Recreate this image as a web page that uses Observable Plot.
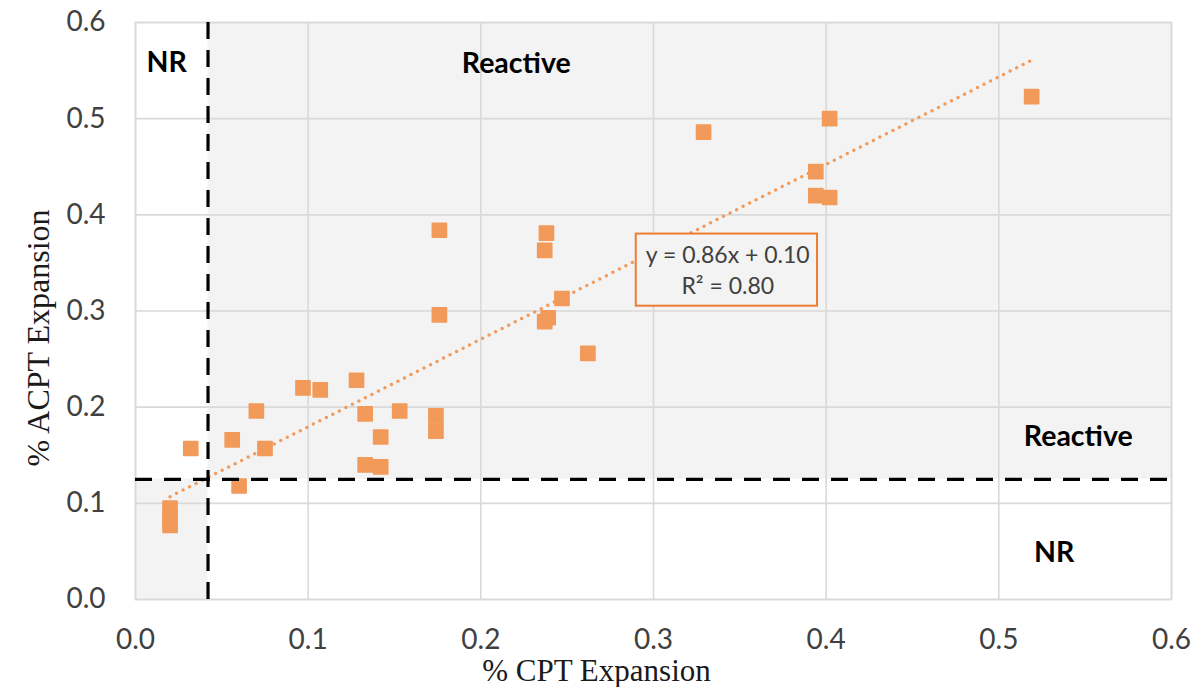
<!DOCTYPE html>
<html>
<head>
<meta charset="utf-8">
<script src="https://cdn.jsdelivr.net/npm/d3@7"></script>
<script src="https://cdn.jsdelivr.net/npm/@observablehq/plot@0.6"></script>
<style>
  html, body { margin: 0; padding: 0; background: #fff; }
</style>
</head>
<body>
<div id="chart"></div>
<script>
// % CPT Expansion (x) and % ACPT Expansion (y)
const cptExpansion = [0.519, 0.329, 0.402, 0.394, 0.394, 0.402, 0.176, 0.238, 0.237, 0.176,
  0.247, 0.239, 0.237, 0.262, 0.128, 0.097, 0.107, 0.070, 0.133, 0.153,
  0.174, 0.174, 0.142, 0.032, 0.056, 0.075, 0.133, 0.142, 0.060, 0.020,
  0.020, 0.020];
const acptExpansion = [0.523, 0.486, 0.500, 0.445, 0.420, 0.418, 0.384, 0.381, 0.363, 0.296,
  0.313, 0.293, 0.289, 0.256, 0.228, 0.220, 0.218, 0.196, 0.193, 0.196,
  0.191, 0.175, 0.169, 0.157, 0.166, 0.157, 0.140, 0.138, 0.118, 0.095,
  0.085, 0.077];

const axisTicks = [0, 0.1, 0.2, 0.3, 0.4, 0.5, 0.6];
const cptThreshold = 0.042;
const acptThreshold = 0.125;

const regionNames = ["NR", "Reactive", "Reactive", "NR"];
const regionX = [0.018, 0.2205, 0.546, 0.532];
const regionY = [0.558, 0.557, 0.169, 0.049];

const equationLines = ["y = 0.86x + 0.10", "R² = 0.80"];
const equationX = [0.343, 0.343];
const equationY = [0.3576, 0.3254];
const equationBox = [{x1: 0.290, x2: 0.395, y1: 0.305, y2: 0.380}];

const points = cptExpansion.map((x, i) => ({x, y: acptExpansion[i]}));
const shaded = [
  {x1: cptThreshold, x2: 0.6, y1: acptThreshold, y2: 0.6},
  {x1: 0, x2: cptThreshold, y1: 0, y2: acptThreshold}
];
const regions = regionNames.map((t, i) => ({t, x: regionX[i], y: regionY[i]}));
const eq = equationLines.map((t, i) => ({t, x: equationX[i], y: equationY[i]}));

const orange = "#f29a5a";

const chart = Plot.plot({
  width: 1198,
  height: 687,
  marginLeft: 135,
  marginRight: 27,
  marginTop: 22,
  marginBottom: 88,
  style: {fontFamily: "Lato", color: "#404040", background: "#fff"},
  x: {domain: [0, 0.6]},
  y: {domain: [0, 0.6]},
  marks: [
    Plot.rect(shaded, {x1: "x1", x2: "x2", y1: "y1", y2: "y2", fill: "#f3f3f3"}),
    Plot.gridX(axisTicks, {stroke: "#d9d9d9", strokeOpacity: 1, strokeWidth: 1.6}),
    Plot.gridY(axisTicks, {stroke: "#d9d9d9", strokeOpacity: 1, strokeWidth: 1.6}),
    Plot.frame({stroke: "#d9d9d9", strokeWidth: 1.6}),
    Plot.axisX(axisTicks, {tickSize: 0, tickPadding: 30, tickFormat: ".1f", label: null, fontSize: 28, fill: "#404040"}),
    Plot.axisY(axisTicks, {tickSize: 0, tickPadding: 30, tickFormat: ".1f", label: null, fontSize: 28, fill: "#404040"}),
    Plot.linearRegressionY(points, {x: "x", y: "y", ci: 0, stroke: orange, strokeWidth: 3.5,
      strokeDasharray: "0,7.3", strokeLinecap: "round"}),
    Plot.dot(points, {x: "x", y: "y", symbol: "square", r: 8, fill: orange, stroke: orange,
      strokeWidth: 1.5, strokeLinejoin: "round"}),
    Plot.ruleY([acptThreshold], {x1: 0, x2: 0.6, stroke: "#000", strokeWidth: 3.2, strokeDasharray: "17,12"}),
    Plot.ruleX([cptThreshold], {y1: 0, y2: 0.6, stroke: "#000", strokeWidth: 3.2, strokeDasharray: "17,11"}),
    Plot.text(regions, {x: "x", y: "y", text: "t", fontSize: 28.5, fontWeight: "bold", fill: "#000"}),
    Plot.rect(equationBox, {x1: "x1", x2: "x2", y1: "y1", y2: "y2", fill: "#f3f3f3", stroke: "#ed7d31", strokeWidth: 2}),
    Plot.text(eq, {x: "x", y: "y", text: "t", fontSize: 23, fill: "#404040"}),
    Plot.text(["% CPT Expansion"], {frameAnchor: "bottom", textAnchor: "middle", lineAnchor: "middle",
      dx: -57, dy: 72, fontSize: 31, fontFamily: "Liberation Serif", fill: "#1a1a1a"}),
    Plot.text(["% ACPT Expansion"], {frameAnchor: "left", textAnchor: "middle", lineAnchor: "middle",
      rotate: -90, dx: -97, dy: 27, fontSize: 32, fontFamily: "Liberation Serif", fill: "#1a1a1a"})
  ]
});
document.getElementById("chart").appendChild(chart);
</script>
</body>
</html>
